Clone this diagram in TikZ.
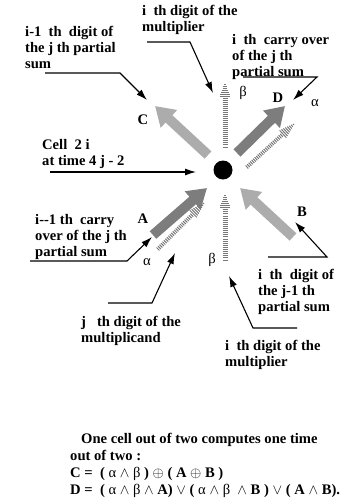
\documentclass[tikz,border=0pt]{standalone}
\usepackage{fontspec}
\setmainfont{Liberation Serif}
\definecolor{cellLight}{RGB}{172,172,172}
\definecolor{cellDark}{RGB}{125,125,125}
\definecolor{cellStripe}{RGB}{120,120,120}
\usetikzlibrary{arrows.meta, calc, positioning}
\tikzset{
  txt/.style={anchor=north west, inner sep=0pt, align=left, font=\bfseries\fontsize{14.6}{16}\selectfont},
  lbl/.style={inner sep=0pt, font=\bfseries\fontsize{14.6}{16}\selectfont},
  grk/.style={inner sep=0pt, font=\fontsize{14.6}{16}\selectfont},
  lead/.style={line width=1.1pt, -{Latex[length=11pt,width=7pt]}},
  stripe/.style={line width=1pt, draw=cellStripe},
}
% striped arrow: tail, tip, shaft half width, head half width, head fraction
\newcommand{\stripearrow}[5]{%
  \foreach \k in {0,...,31} {
    \pgfmathsetmacro{\t}{\k/32}
    \pgfmathsetmacro{\hw}{\t < 1-#5 ? #3 : #4*(1-\t)/#5}
    \draw[stripe] ($(#1)!\t!(#2)!\hw pt!90:(#2)$) -- ($(#1)!\t!(#2)!\hw pt!-90:(#2)$);
  }}

\begin{document}
\begin{tikzpicture}[x=1pt, y=-1pt]
  \useasboundingbox (0,0) rectangle (345,504);

  % the cell
  \fill (223,170) circle (9.5pt);
  \coordinate (cell) at (196,172);

  % block arrows
  \foreach \nm/\tl/\tp/\col in {
    C/{208,155}/{155,106}/cellLight,
    D/{237,153}/{285,106}/cellDark,
    A/{153,235}/{207,188}/cellDark,
    B/{293,237}/{240,188}/cellLight%
  } {
    \coordinate (\nm tail) at (\tl);
    \coordinate (\nm tip) at (\tp);
    \draw[line width=10pt, draw=\col, -{Triangle[length=19pt,width=23pt]}] (\nm tail) -- (\nm tip);
  }

  % striped arrows
  \coordinate (bUt) at (225,147); \coordinate (bUh) at (225,82);
  \coordinate (aUt) at (247,167); \coordinate (aUh) at (295,123);
  \coordinate (aLt) at (158,249); \coordinate (aLh) at (205,202);
  \coordinate (bLt) at (225,260); \coordinate (bLh) at (225,193);
  \stripearrow{bUt}{bUh}{2.5}{5.5}{0.22}
  \stripearrow{aUt}{aUh}{2}{5}{0.25}
  \stripearrow{aLt}{aLh}{2}{5}{0.25}
  \stripearrow{bLt}{bLh}{2.5}{5.5}{0.22}

  % letters
  \node[lbl] (labC) at (143,120) {C};
  \node[lbl] (labD) at (278,98) {D};
  \node[lbl] (labA) at (143,219) {A};
  \node[lbl] (labB) at (302,212) {B};
  \node[grk] (betaU) at (243,93) {β};
  \node[grk] (alphaU) at (315,103) {α};
  \node[grk] (alphaL) at (147,262) {α};
  \node[grk] (betaL) at (212,260) {β};

  % texts
  \node[txt] (multTop) at (142,5) {i\ \ th digit of the\\multiplier};
  \node[txt] (sumPrev) at (25,26) {i-1\ \ th\ \ digit of\\the j th partial\\sum};
  \node[txt] (carryOut) at (232,34) {i\ \ th\ \ carry over\\of the j th\\partial sum};
  \node[txt] (cellTxt) at (42,139) {Cell\ \ 2 i\\at time 4 j - 2};
  \node[txt] (carryIn) at (35,214) {i-{}-1 th\ \ carry\\over of the j th\\partial sum};
  \node[txt] (sumIn) at (258,269) {i\ \ th\ \ digit of\\the j-1 th\\partial sum};
  \node[txt] (mcand) at (81,316) {j\ \ \ th digit of the\\multiplicand};
  \node[txt] (multBot) at (225,340) {i\ \ th digit of the\\multiplier};
  \node[txt, font=\bfseries\fontsize{14.6}{17}\selectfont] (rules) at (70,433) {\hspace{11pt}One cell out of two computes one time\\
    out of two :\\
    C =\ \ ( {\mdseries α} $\wedge$ {\mdseries β} ) $\oplus$ ( A $\oplus$ B )\\
    D =\ \ ( {\mdseries α} $\wedge$ {\mdseries β} $\wedge$ A) $\vee$ ( {\mdseries α} $\wedge$ {\mdseries β}\ \ $\wedge$ B ) $\vee$ ( A $\wedge$ B).};

  % leaders
  \coordinate (l1a) at (147,42);  \coordinate (l1b) at (190,42);
  \coordinate (l2a) at (45,73);   \coordinate (l2b) at (120,73);
  \coordinate (l3a) at (243,77);  \coordinate (l3b) at (317,77);
  \coordinate (l4a) at (50,172);
  \coordinate (l5a) at (30,261);  \coordinate (l5b) at (127,261);
  \coordinate (l6a) at (108,303); \coordinate (l6b) at (152,303);
  \coordinate (l7a) at (268,257); \coordinate (l7b) at (327,257);
  \coordinate (l8a) at (297,328); \coordinate (l8b) at (253,328);
  \coordinate (t1) at (213,93);
  \coordinate (t2) at (147,100);
  \coordinate (t3) at (293,100);
  \coordinate (t5) at (152,237);
  \coordinate (t6) at (175,253);
  \coordinate (t7) at (295,222);
  \coordinate (t8) at (229,276);
  \draw[lead] (l1a) -- (l1b) -- (t1);
  \draw[lead] (l2a) -- (l2b) -- (t2);
  \draw[lead] (l3a) -- (l3b) -- (t3);
  \draw[lead] (l4a) -- (cell);
  \draw[lead] (l5a) -- (l5b) -- (t5);
  \draw[lead] (l6a) -- (l6b) -- (t6);
  \draw[lead] (l7a) -- (l7b) -- (t7);
  \draw[lead] (l8a) -- (l8b) -- (t8);
\end{tikzpicture}
\end{document}
